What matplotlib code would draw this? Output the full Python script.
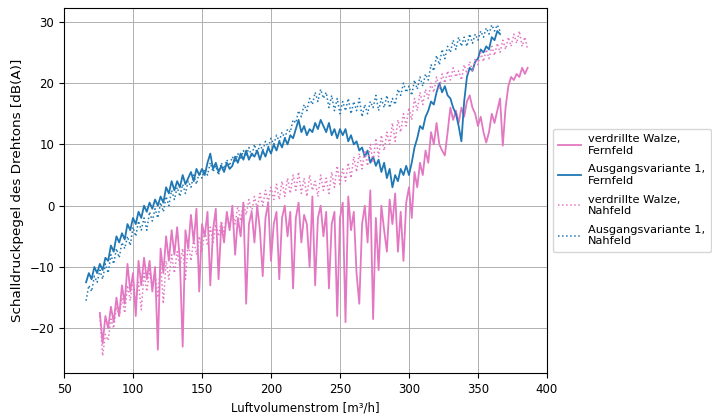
import numpy as np
import matplotlib
matplotlib.use("Agg")
import matplotlib.pyplot as plt

plt.rcParams["font.size"] = 8.5

# Sweep settings of the flow rate [m³/h]
STEP = 2
walze_start, walze_stop = 76, 386
ausgang_start, ausgang_stop = 66, 366

# verdrillte Walze, Fernfeld [dB(A)]
walze_fern = [
    -17.5, -22.5, -18, -20, -16.5, -19, -15, -18, -13, -16, -9.5, -14, -11, -18, -9, -13,
    -8.5, -12, -9, -14, -10, -23.5, -7, -11, -5, -9, -4, -8, -3.5, -9, -23, -4, -7, -1.5,
    -6, -0.5, -14, -3, -5, -1, -13, -4, -0.5, -12, -3, -6, -1, -4, 0, -8, -2, -5, 0.5, -16,
    -3, -1, -6, 0, -4, -11.5, -2, 0.5, -9, -3, -1, -12, -2, 0, -5, -1, -13.5, -2, 0.5, -6,
    -1.5, -3, -10, 1.5, -13, -2, 0, -5, -1, -13.5, -3, -1, -18, -2, 0.5, -19, 1.5, -4, -1,
    -11, -16, -3, 0, -6, 2.5, -18.5, -2, -10.5, 0, -4, -7.5, 1, -3, 2, -7.5, -1, -9, 0.5,
    3, -2, 5.5, 3, 7, 5, 9, 7, 12, 10, 13.5, 10, 9, 8.2, 12, 16, 14, 15.5, 13.5, 16, 14.5,
    17, 18, 16, 15, 13, 14.5, 12, 10.3, 12, 15, 13.5, 15.5, 17.5, 9.8, 16, 19.5, 21, 20.5,
    21.5, 21, 22.5, 21.5, 22.5,
]

# Ausgangsvariante 1, Fernfeld [dB(A)]
ausgang_fern = [
    -12.5, -11, -12, -10, -11, -9.5, -10.5, -8.5, -9, -6.5, -7.5, -5, -6, -4.5, -5.5, -3,
    -4, -2, -3, -1, -2, 0, -1, 0.5, -0.5, 1, 0, 1.5, 0.5, 3, 2, 4, 2.5, 4, 3, 5, 3.5, 4.5,
    5.5, 4, 6, 5, 6, 5, 7, 8.5, 6, 7, 5.5, 6.5, 5.5, 7, 6, 6.5, 8, 7, 8.5, 7.5, 9, 7.5, 8.5,
    8, 9, 7.5, 9, 8, 9.5, 8.5, 10, 9, 10.5, 9.5, 11, 10, 11.5, 11, 12.5, 14, 12, 13, 11.5,
    12.5, 12, 13.5, 12.5, 14, 13, 12, 13.5, 11.5, 12.5, 11, 12.5, 11.5, 12.5, 10.5, 11.5,
    10, 10.5, 9, 9.5, 8, 9, 7, 8, 6.5, 7.5, 5.5, 7, 4.5, 6, 3, 5, 4, 6, 5, 6.5, 5, 7, 9.5,
    11, 13, 12.5, 14.5, 15.5, 17, 16.5, 18.5, 20, 18.5, 19.5, 18, 17.5, 16, 15, 13, 10.5,
    17, 21, 22.5, 22, 23.5, 24, 25.5, 25, 26, 25.5, 27.5, 27, 28.5, 28,
]

# verdrillte Walze, Nahfeld [dB(A)]
walze_nah = [
    -18, -24.5, -21, -22, -18.5, -20, -16.5, -18, -15, -17.5, -13, -15.5, -12, -16, -12.5,
    -17, -11, -14, -10.5, -13.5, -11, -15, -9.5, -16, -9, -12, -8, -11, -7.5, -10, -7, -12,
    -6, -9, -5.5, -8, -5, -7.5, -4, -6.5, -3.5, -6, -3, -5, -2.5, -4.5, -1.5, -3.5, -1, -3,
    0, -2.5, 0.5, -1.5, 1, -1, 1.5, -0.5, 2, 0, 2.5, 0.5, 3, 1, 3.5, 1, 4, 1.5, 4.5, 2, 5,
    2.5, 5.5, 2, 4.5, 1.5, 5, 2.5, 4, 1.5, 5, 2.5, 4.5, 2, 5.5, 3, 6.5, 3.5, 6, 4, 7, 4.5,
    8, 5.5, 8.5, 6, 9, 6.5, 10, 7, 11, 8, 11.5, 9, 12, 10, 13.5, 10.5, 14, 12, 15, 13, 16,
    14, 17.5, 15.5, 18.5, 16.5, 19, 17.5, 20, 18.5, 21, 19, 21.5, 20, 22, 20.5, 22.5, 21,
    22, 20.5, 23, 21.5, 23.5, 22, 24, 23, 25, 23.5, 25.5, 24, 26, 24.5, 26.5, 25, 27, 25.5,
    27.5, 26, 28, 26.5, 28.5, 26, 27.5, 25.5,
]

# Ausgangsvariante 1, Nahfeld [dB(A)]
ausgang_nah = [
    -15.5, -13, -14, -11.5, -12.5, -10.5, -12, -9.5, -11, -8, -9.5, -7, -8.5, -6, -7, -5,
    -6.5, -3.5, -5, -2.5, -4, -2, -4, -1, -2.5, -0.5, -2, 0.5, -1, 1.5, 0, 2.5, 1, 3, 1.5,
    3.5, 2, 4, 3, 5, 3.5, 5.5, 4.5, 6, 5, 7, 5.5, 6.5, 5, 7, 6, 7.5, 6.5, 8, 7, 8.5, 7.5, 9,
    8, 9.5, 8, 10, 8.5, 10, 9, 10.5, 9.5, 11, 10, 11.5, 10.5, 12, 11, 12.5, 12, 14, 13.5,
    15.5, 14.5, 16.5, 15.5, 17.5, 16.5, 18.5, 17, 19, 17.5, 18.5, 16, 18, 15.5, 17.5, 15,
    17, 15.5, 17.5, 15, 17, 15.5, 17.5, 14.5, 16.5, 15, 17, 16, 18, 15.5, 17.5, 16, 18, 16,
    17.5, 16.5, 19, 18, 20, 18.5, 19.5, 18, 20.5, 19, 21, 19.5, 21.5, 20.5, 23, 22, 24.5,
    23, 25.5, 24, 26, 25, 27, 25.5, 27.5, 26, 27.5, 26, 28, 26.5, 28, 27, 28.5, 27.5, 29,
    28, 29.5, 28.5, 29.5, 28.5,
]

x_walze = np.arange(walze_start, walze_stop + 1, STEP)
x_ausgang = np.arange(ausgang_start, ausgang_stop + 1, STEP)

labels = [
    "verdrillte Walze,\nFernfeld",
    "Ausgangsvariante 1,\nFernfeld",
    "verdrillte Walze,\nNahfeld",
    "Ausgangsvariante 1,\nNahfeld",
]

fig = plt.figure(figsize=(7.12, 4.16), dpi=100)
ax = fig.add_axes([0.0899, 0.1034, 0.6783, 0.878])

ax.plot(x_walze, walze_fern, color="#e377c2", lw=1.3, label=labels[0])
ax.plot(x_ausgang, ausgang_fern, color="#1f77b4", lw=1.3, label=labels[1])
ax.plot(x_walze, walze_nah, color="#e377c2", lw=1.1, ls=":", label=labels[2])
ax.plot(x_ausgang, ausgang_nah, color="#1f77b4", lw=1.1, ls=":", label=labels[3])

ax.set_xlim(50, 400)
ax.set_ylim(-27.3, 32.3)
ax.set_xticks([50, 100, 150, 200, 250, 300, 350, 400])
ax.set_yticks([-20, -10, 0, 10, 20, 30])
ax.grid(True, linewidth=0.7)
ax.set_xlabel("Luftvolumenstrom [m³/h]")
ax.set_ylabel("Schalldruckpegel des Drehtons [dB(A)]", fontsize=9.7)
ax.legend(loc="center left", bbox_to_anchor=(1.0, 0.5), fontsize=8.2,
          labelspacing=0.75, handletextpad=0.6, borderpad=0.5)

fig.savefig("out.png", dpi=100)
